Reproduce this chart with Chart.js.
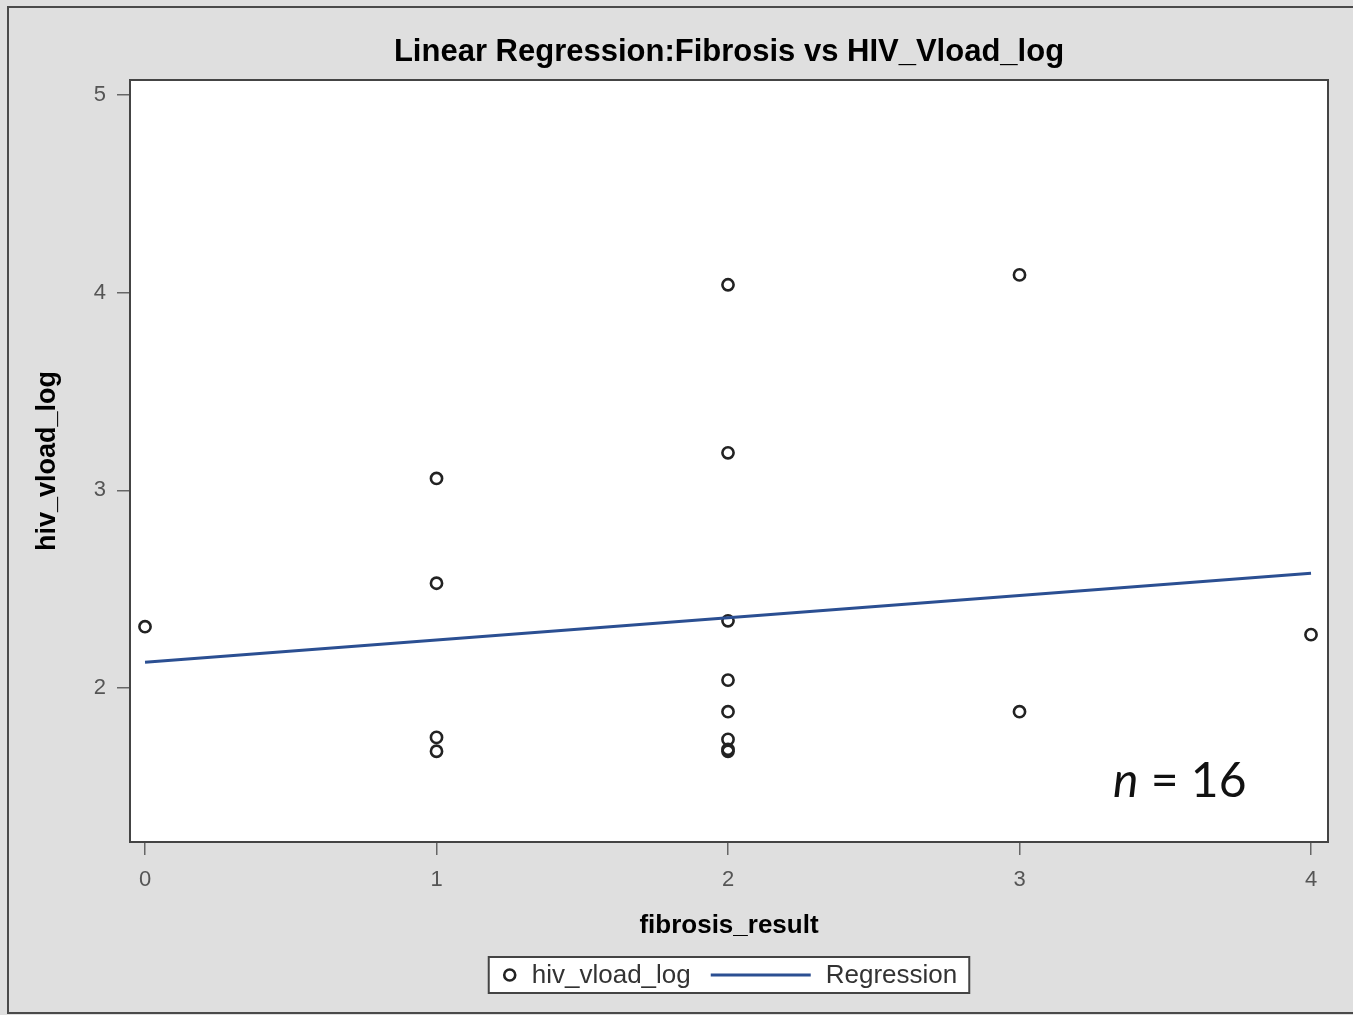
<!DOCTYPE html>
<html>
<head>
<meta charset="utf-8">
<script src="https://cdn.jsdelivr.net/npm/chart.js@4/dist/chart.umd.min.js"></script>
<style>
  html, body { margin: 0; padding: 0; background: #dfdfdf; }
  #wrap { position: relative; width: 1353px; height: 1015px; }
</style>
</head>
<body>
<div id="wrap"><canvas id="chart"></canvas></div>
<script>
// data
const fibrosis = [0, 1, 1, 1, 1, 2, 2, 2, 2, 2, 2, 2, 2, 3, 3, 4];
const vload = [2.31, 3.06, 2.53, 1.75, 1.68, 4.04, 3.19, 2.34, 2.04, 1.88, 1.74, 1.69, 1.68, 4.09, 1.88, 2.27];
const regX = [0, 4];
const regY = [2.13, 2.58];
const xTicks = [0, 1, 2, 3, 4];
const yTicks = [2, 3, 4, 5];

const FONT = '"Liberation Sans", Arial, sans-serif';

// frame, white plot area, boxed legend and the n = label
const decor = {
  id: 'decor',
  beforeDraw(chart) {
    const { ctx, chartArea: a } = chart;
    ctx.save();
    ctx.fillStyle = '#dfdfdf';
    ctx.fillRect(0, 0, chart.width, chart.height);
    ctx.strokeStyle = '#4a4a4a';
    ctx.lineWidth = 2;
    ctx.beginPath();
    ctx.moveTo(chart.width, 7);
    ctx.lineTo(8, 7);
    ctx.lineTo(8, 1013);
    ctx.lineTo(chart.width, 1013);
    ctx.stroke();
    ctx.fillStyle = '#fff';
    ctx.fillRect(a.left, a.top, a.right - a.left, a.bottom - a.top);
    ctx.restore();
  },
  afterDraw(chart) {
    const { ctx, chartArea: a } = chart;
    ctx.save();
    ctx.strokeStyle = '#444';
    ctx.lineWidth = 2;
    ctx.strokeRect(a.left, a.top, a.right - a.left, a.bottom - a.top);

    // legend
    const ds = chart.data.datasets;
    ctx.font = '26px ' + FONT;
    const w0 = ctx.measureText(ds[0].label).width;
    const w1 = ctx.measureText(ds[1].label).width;
    const total = 15 + 12 + 16 + w0 + 20 + 100 + 15 + w1 + 12;
    let x = (a.left + a.right) / 2 - total / 2;
    const top = chart.scales.x.bottom + 3, h = 36, cy = top + h / 2;
    ctx.fillStyle = '#fff';
    ctx.fillRect(x, top, total, h);
    ctx.strokeStyle = '#444';
    ctx.strokeRect(x, top, total, h);
    x += 15;
    ctx.beginPath();
    ctx.arc(x + 6, cy, 5.5, 0, Math.PI * 2);
    ctx.strokeStyle = ds[0].borderColor;
    ctx.lineWidth = ds[0].pointBorderWidth;
    ctx.stroke();
    x += 12 + 16;
    ctx.fillStyle = '#333';
    ctx.textBaseline = 'middle';
    ctx.fillText(ds[0].label, x, cy + 1);
    x += w0 + 20;
    ctx.beginPath();
    ctx.moveTo(x, cy);
    ctx.lineTo(x + 100, cy);
    ctx.strokeStyle = ds[1].borderColor;
    ctx.lineWidth = ds[1].borderWidth;
    ctx.stroke();
    x += 100 + 15;
    ctx.fillText(ds[1].label, x, cy + 1);

    // n = 16
    ctx.fillStyle = '#111';
    ctx.textBaseline = 'alphabetic';
    ctx.font = 'italic 48px Lato, "Open Sans", sans-serif';
    const nx = 1113, ny = 797;
    ctx.fillText('n', nx, ny);
    const nw = ctx.measureText('n').width;
    ctx.font = '48px Lato, "Open Sans", sans-serif';
    ctx.fillText(' = ' + fibrosis.length, nx + nw, ny);
    ctx.restore();
  }
};

new Chart(document.getElementById('chart'), {
  type: 'scatter',
  data: {
    datasets: [
      {
        label: 'hiv_vload_log',
        data: fibrosis.map((f, i) => ({ x: f, y: vload[i] })),
        pointStyle: 'circle',
        pointRadius: 5.6,
        pointBorderWidth: 2.6,
        borderColor: '#222',
        pointBackgroundColor: 'rgba(0,0,0,0)',
        pointBorderColor: '#222',
        order: 1
      },
      {
        label: 'Regression',
        data: regX.map((f, i) => ({ x: f, y: regY[i] })),
        showLine: true,
        pointRadius: 0,
        borderColor: '#2b4f92',
        borderWidth: 3,
        order: 0
      }
    ]
  },
  options: {
    responsive: true,
    maintainAspectRatio: false,
    animation: false,
    events: [],
    layout: { padding: { left: 16, right: 25, top: 10, bottom: 61 } },
    plugins: {
      legend: { display: false },
      tooltip: { enabled: false },
      title: {
        display: true,
        fullSize: false,
        text: 'Linear Regression:Fibrosis vs HIV_Vload_log',
        color: '#000',
        font: { family: FONT, size: 31, weight: 'bold' },
        padding: { top: 24, bottom: 8.8 }
      }
    },
    scales: {
      x: {
        type: 'linear',
        min: -0.0515,
        max: 4.0583,
        afterBuildTicks: (axis) => { axis.ticks = xTicks.map(v => ({ value: v })); },
        afterFit: (axis) => { axis.height = 112; },
        grid: { drawOnChartArea: false, drawTicks: true, tickLength: 13, color: '#666', lineWidth: 1.5 },
        border: { display: false },
        ticks: { color: '#555', padding: 12, font: { family: FONT, size: 22 } },
        title: {
          display: true,
          text: 'fibrosis_result',
          color: '#000',
          font: { family: FONT, size: 26, weight: 'bold' },
          padding: { top: 0, bottom: 13 }
        }
      },
      y: {
        type: 'linear',
        min: 1.2209,
        max: 5.0759,
        afterBuildTicks: (axis) => { axis.ticks = yTicks.map(v => ({ value: v })); },
        afterFit: (axis) => { axis.width = 114; },
        grid: { drawOnChartArea: false, drawTicks: true, tickLength: 13, color: '#666', lineWidth: 1.5 },
        border: { display: false },
        ticks: { color: '#555', padding: 11, font: { family: FONT, size: 22 } },
        title: {
          display: true,
          text: 'hiv_vload_log',
          color: '#000',
          font: { family: FONT, size: 27, weight: 'bold' },
          padding: { top: 15, bottom: 0 }
        }
      }
    }
  },
  plugins: [decor]
});
</script>
</body>
</html>
